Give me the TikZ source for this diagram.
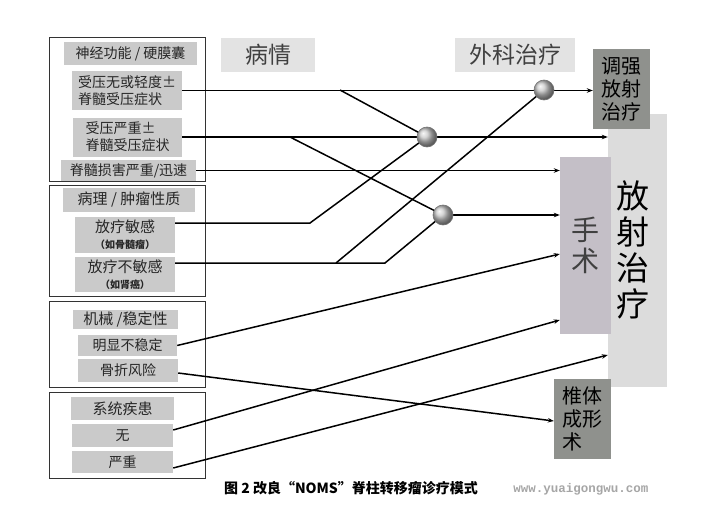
\documentclass[tikz,border=0pt]{standalone}
\usepackage{fontspec}
\setmainfont{Noto Sans CJK SC}
\newfontfamily\wmfont{Liberation Mono}
\usetikzlibrary{arrows.meta,shapes.geometric}
\definecolor{itemgray}{HTML}{CACACA}
\definecolor{titlegray}{HTML}{E3E3E3}
\definecolor{darkbox}{HTML}{8F918D}
\definecolor{radbox}{HTML}{DCDCDC}
\definecolor{surgbox}{HTML}{C4BFC7}
\begin{document}
\begin{tikzpicture}[x=1pt,y=-1pt,
  frame/.style={draw=black!80, line width=0.8pt, inner sep=0pt},
  itembox/.style={fill=itemgray, inner sep=0pt, text=black!85, font=\fontsize{14}{17}\selectfont},
  titlebox/.style={fill=titlegray, inner sep=0pt, text=black!75, font=\fontsize{23}{26}\selectfont},
  tallbox/.style={inner sep=0pt, text=black},
  ball/.style={circle, minimum size=20pt, inner sep=0pt, draw=black!55, line width=0.6pt, ball color=black!22},
  conn/.style={line width=1.5pt, black},
  arr/.style={conn, -{Stealth[length=6pt,width=4.5pt]}}
]
\useasboundingbox (0,0) rectangle (710,509);
\fill[white] (0,0) rectangle (710,509);

% left frames
\node[frame, minimum width=156pt, minimum height=144pt] (g1) at (127,109) {};
\node[frame, minimum width=156pt, minimum height=111pt] (g2) at (127,240.5) {};
\node[frame, minimum width=156pt, minimum height=86pt] (g3) at (127,344) {};
\node[frame, minimum width=156pt, minimum height=86pt] (g4) at (127,435) {};

% group 1
\node[itembox, minimum width=133pt, minimum height=23pt] (h1) at (130.5,53.5) {神经功能 / 硬膜囊};
\node[itembox, minimum width=110pt, minimum height=39pt, align=left] (a1) at (127,90.5) {受压无或轻度±\\脊髓受压症状};
\node[itembox, minimum width=109pt, minimum height=39pt, align=left] (a2) at (127.5,137) {受压严重±\\脊髓受压症状};
\node[itembox, minimum width=135pt, minimum height=21pt] (a3) at (128.5,170.5) {脊髓损害严重/迅速};

% group 2
\node[itembox, minimum width=132pt, minimum height=24pt, font=\fontsize{15}{17}\selectfont] (h2) at (129,200) {病理 / 肿瘤性质};
\node[itembox, minimum width=100pt, minimum height=36pt, align=center] (b1) at (125,235)
  {{\fontsize{15}{15}\selectfont 放疗敏感}\\[-1pt]{\fontsize{10}{11}\selectfont\bfseries （如骨髓瘤）}};
\node[itembox, minimum width=100pt, minimum height=35pt, align=center] (b2) at (125,274.5)
  {{\fontsize{15}{15}\selectfont 放疗不敏感}\\[-1pt]{\fontsize{10}{11}\selectfont\bfseries （如肾癌）}};

% group 3
\node[itembox, minimum width=105pt, minimum height=19pt, font=\fontsize{15}{17}\selectfont] (h3) at (125.5,319.5) {机械 /稳定性};
\node[itembox, minimum width=99pt, minimum height=21pt] (c1) at (127.5,345.5) {明显不稳定};
\node[itembox, minimum width=100pt, minimum height=23pt] (c2) at (128,370.5) {骨折风险};

% group 4
\node[itembox, minimum width=103pt, minimum height=23pt, font=\fontsize{15}{17}\selectfont] (h4) at (122.5,408.5) {系统疾患};
\node[itembox, minimum width=101pt, minimum height=23pt] (d1) at (122.5,435.5) {无};
\node[itembox, minimum width=101pt, minimum height=22pt] (d2) at (122.5,462) {严重};

% column titles
\node[titlebox, minimum width=94pt, minimum height=34pt] (t1) at (268,55) {病情};
\node[titlebox, minimum width=120pt, minimum height=34pt] (t2) at (515,55) {外科治疗};

% treatment boxes
\node[tallbox, fill=radbox, minimum width=59pt, minimum height=273pt] (R2) at (637.5,250.5) {};
\node[font=\fontsize{33}{36}\selectfont, align=center, inner sep=0pt] (R2t) at (633,250) {放\\射\\治\\疗};
\node[tallbox, fill=darkbox, minimum width=57pt, minimum height=80pt, font=\fontsize{20}{23}\selectfont, align=center] (R1) at (621.5,89) {调强\\放射\\治疗};
\node[tallbox, fill=surgbox, minimum width=51pt, minimum height=177pt, text=black!75, font=\fontsize{28}{31}\selectfont, align=center] (S) at (585.5,245.5) {手\\术};
\node[tallbox, fill=darkbox, minimum width=57pt, minimum height=80pt, font=\fontsize{20}{23}\selectfont, align=left] (V) at (582.5,419) {椎体\\成形\\术};

% circles (positions) and bend coordinates
\coordinate (k1c) at (544,90);
\coordinate (k2c) at (427,137);
\coordinate (k3c) at (443,215);
\coordinate (p1) at (340,90);
\coordinate (p2) at (290,137);
\coordinate (q1) at (310,223);
\coordinate (q2) at (336,263);
\coordinate (q3) at (385,263);

% horizontal connectors
\draw[arr] (a1.east) -- (a1.east -| R1.west);
\draw[arr] (a2.east) -- (a2.east -| R2.west);
\draw[arr] (a3.east) -- (a3.east -| S.west);
\draw[arr] (k3c) -- (k3c -| S.west);

% crossing diagonals
\draw[conn] (p1) -- (k2c);
\draw[conn] (p2) -- (k3c);
\draw[conn] ([yshift=12pt]b1.east) -- (q1) -- (k2c);
\draw[conn] ([yshift=11.5pt]b2.east) -- (q3) -- (k3c);
\draw[conn] (q2) -- (k1c);

% lower connectors
\draw[arr] (c1.east) -- ([yshift=-8.5pt]S.west);
\draw[arr] ([yshift=-2.5pt]c2.east) -- ([yshift=-2pt]V.west);
\draw[arr] ([yshift=5.5pt]d1.east) -- ([yshift=-74.5pt]S.west);
\draw[arr] ([yshift=-6pt]d2.east) -- ([yshift=-104.5pt]R2.west);

% circles
\node[ball] (k1) at (k1c) {};
\node[ball] (k2) at (k2c) {};
\node[ball] (k3) at (k3c) {};

% caption
\node[font=\fontsize{14}{16}\selectfont\bfseries, inner sep=0pt] (cap) at (351,488) {图 2 改良“NOMS”脊柱转移瘤诊疗模式};
\node[font=\wmfont\bfseries\fontsize{12.5}{14}\selectfont, text=black!35, inner sep=0pt] (wm) at (581,489) {www.yuaigongwu.com};
\end{tikzpicture}
\end{document}
